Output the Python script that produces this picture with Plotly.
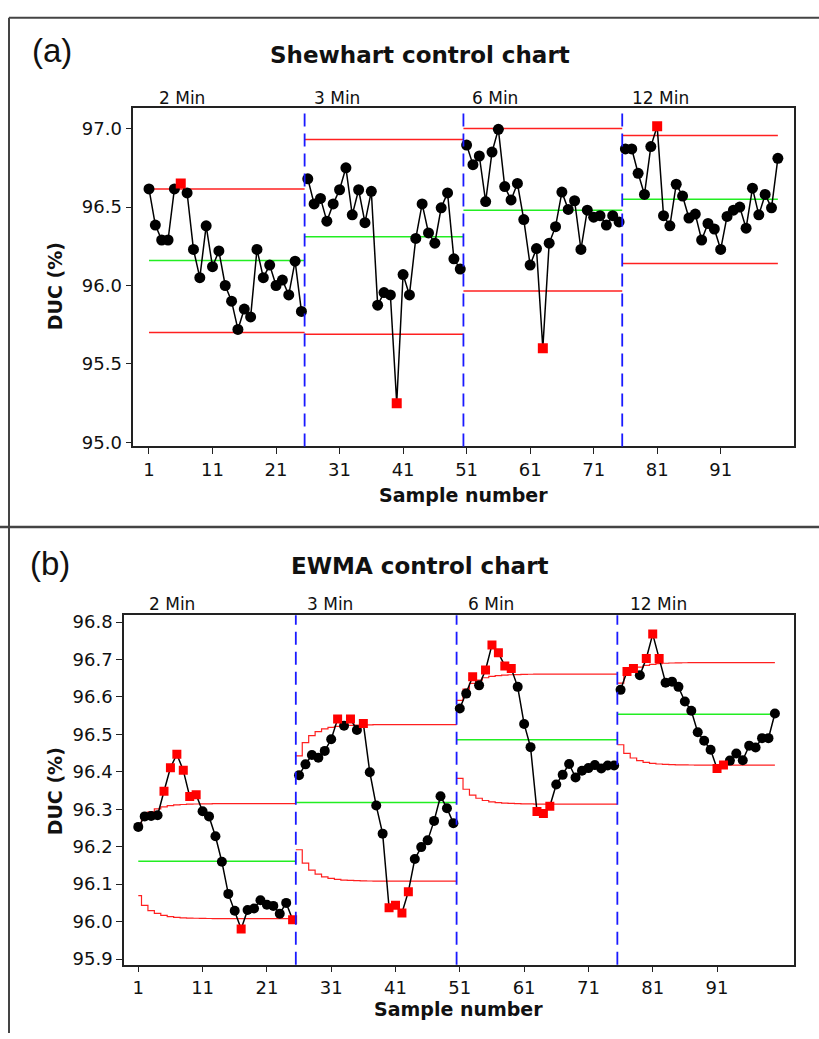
import plotly.graph_objects as go

# ---------------- data ----------------
segment_labels = ["2 Min", "3 Min", "6 Min", "12 Min"]
segment_first = [1, 26, 51, 76]
segment_last = [25, 50, 75, 100]
boundaries = [25.5, 50.5, 75.5]
x_ticks = [1, 11, 21, 31, 41, 51, 61, 71, 81, 91]

duc = [
    96.615, 96.385, 96.29, 96.29, 96.615, 96.65, 96.59, 96.23, 96.05, 96.38,
    96.12, 96.22, 96.00, 95.90, 95.72, 95.85, 95.80, 96.23, 96.05, 96.13,
    96.00, 96.035, 95.94, 96.155, 95.835,
    96.68, 96.52, 96.555, 96.41, 96.52, 96.61, 96.75, 96.45, 96.61, 96.40,
    96.60, 95.875, 95.955, 95.94, 95.25, 96.07, 95.94, 96.30, 96.52, 96.335,
    96.27, 96.495, 96.59, 96.17, 96.105,
    96.895, 96.77, 96.825, 96.535, 96.85, 96.995, 96.63, 96.545, 96.65, 96.42,
    96.13, 96.235, 95.60, 96.27, 96.375, 96.595, 96.485, 96.54, 96.23, 96.48,
    96.435, 96.445, 96.385, 96.445, 96.405,
    96.87, 96.87, 96.715, 96.58, 96.885, 97.015, 96.445, 96.38, 96.645, 96.57,
    96.43, 96.455, 96.29, 96.395, 96.36, 96.23, 96.44, 96.48, 96.50, 96.365,
    96.62, 96.45, 96.58, 96.495, 96.81,
]
shew_cl = [96.16, 96.31, 96.48, 96.55]
shew_ucl = [96.615, 96.93, 97.00, 96.955]
shew_lcl = [95.70, 95.69, 95.965, 96.14]
shew_out = [6, 40, 63, 81]

ewma = [
    96.253, 96.281, 96.282, 96.284, 96.348, 96.411, 96.447, 96.404, 96.334, 96.339,
    96.295, 96.281, 96.228, 96.160, 96.074, 96.029, 95.980, 96.031, 96.035, 96.057,
    96.045, 96.042, 96.021, 96.050, 96.005,
    96.391, 96.420, 96.445, 96.438, 96.456, 96.487, 96.541, 96.523, 96.541, 96.512,
    96.529, 96.399, 96.310, 96.235, 96.037, 96.044, 96.023, 96.080, 96.167, 96.199,
    96.217, 96.269, 96.335, 96.303, 96.263,
    96.569, 96.609, 96.654, 96.631, 96.672, 96.739, 96.718, 96.683, 96.676, 96.627,
    96.528, 96.466, 96.294, 96.289, 96.308, 96.366, 96.392, 96.421, 96.385, 96.403,
    96.410, 96.418, 96.409, 96.417, 96.417,
    96.619, 96.668, 96.676, 96.658, 96.703, 96.768, 96.703, 96.638, 96.641, 96.627,
    96.588, 96.563, 96.506, 96.483, 96.459, 96.409, 96.418, 96.430, 96.449, 96.431,
    96.470, 96.465, 96.490, 96.490, 96.556,
]
ewma_cl = [96.161, 96.318, 96.486, 96.554]
ewma_ucl = [96.315, 96.526, 96.661, 96.692]
ewma_lcl = [96.008, 96.108, 96.314, 96.418]
# fraction of the final limit width reached at each sample of a segment
ewma_ramp = [0.60, 0.77, 0.86, 0.91, 0.945, 0.965, 0.978, 0.986, 0.991, 0.994, 0.996, 0.998,
             1.0, 1.0, 1.0, 1.0, 1.0, 1.0, 1.0, 1.0, 1.0, 1.0, 1.0, 1.0, 1.0]
ewma_out = [5, 6, 7, 8, 9, 10, 17, 25, 32, 34, 36, 40, 41, 42, 43,
            53, 55, 56, 57, 58, 59, 63, 64, 65, 77, 78, 80, 81, 82, 91, 92]

# ---------------- figure ----------------
W, H = 819, 1039
RED = "#ff2020"
GREEN = "#22ee22"
BLUE = "#1a1aff"
FONT = "DejaVu Sans"

fig = go.Figure()


def add_points(values, out, xa, ya, csize, ssize):
    for s in range(4):
        xs = list(range(segment_first[s], segment_last[s] + 1))
        ys = values[segment_first[s] - 1: segment_last[s]]
        fig.add_trace(go.Scatter(x=xs, y=ys, mode="lines", line=dict(color="black", width=1.5),
                                 xaxis=xa, yaxis=ya, showlegend=False, hoverinfo="skip"))
    bx = [i + 1 for i in range(100) if (i + 1) not in out]
    by = [values[i] for i in range(100) if (i + 1) not in out]
    rx = [i for i in out]
    ry = [values[i - 1] for i in out]
    fig.add_trace(go.Scatter(x=bx, y=by, mode="markers",
                             marker=dict(color="black", size=csize, symbol="circle"),
                             xaxis=xa, yaxis=ya, showlegend=False))
    fig.add_trace(go.Scatter(x=rx, y=ry, mode="markers",
                             marker=dict(color="#ff0000", size=ssize, symbol="square"),
                             xaxis=xa, yaxis=ya, showlegend=False))


seg_left = [1, 25.5, 50.5, 75.5]
seg_right = [25.5, 50.5, 75.5, 100]

# Shewhart limits
for s in range(4):
    for val, col in ((shew_ucl[s], RED), (shew_lcl[s], RED), (shew_cl[s], GREEN)):
        fig.add_trace(go.Scatter(x=[seg_left[s], seg_right[s]], y=[val, val], mode="lines",
                                 line=dict(color=col, width=1.5), xaxis="x", yaxis="y",
                                 showlegend=False, hoverinfo="skip"))

# EWMA limits (stepped)
for s in range(4):
    n = segment_last[s] - segment_first[s] + 1
    xs = [seg_left[s]] + list(range(segment_first[s], segment_last[s] + 1)) + [seg_right[s]]
    ramp = [ewma_ramp[0]] + ewma_ramp[:n] + [ewma_ramp[n - 1]]
    up = [ewma_cl[s] + (ewma_ucl[s] - ewma_cl[s]) * r for r in ramp]
    lo = [ewma_cl[s] - (ewma_cl[s] - ewma_lcl[s]) * r for r in ramp]
    for ys in (up, lo):
        fig.add_trace(go.Scatter(x=xs, y=ys, mode="lines", line=dict(color=RED, width=1.2, shape="hvh"),
                                 xaxis="x2", yaxis="y2", showlegend=False, hoverinfo="skip"))
    fig.add_trace(go.Scatter(x=[seg_left[s], seg_right[s]], y=[ewma_cl[s], ewma_cl[s]], mode="lines",
                             line=dict(color=GREEN, width=1.5), xaxis="x2", yaxis="y2",
                             showlegend=False, hoverinfo="skip"))

add_points(duc, shew_out, "x", "y", 11, 10)
add_points(ewma, ewma_out, "x2", "y2", 10, 9)

# vertical dashed separators
shapes = []
for b in boundaries:
    for xr, yr in (("x", "y domain"), ("x2", "y2 domain")):
        shapes.append(dict(type="line", xref=xr, yref=yr, x0=b, x1=b, y0=0, y1=1,
                           line=dict(color=BLUE, width=1.8, dash="13px,7px")))
# outer frames
frame = "#444444"
shapes.append(dict(type="line", xref="paper", yref="paper", x0=9 / W, x1=1, y0=1 - 14 / H, y1=1 - 14 / H,
                   line=dict(color=frame, width=2)))
shapes.append(dict(type="line", xref="paper", yref="paper", x0=9 / W, x1=9 / W, y0=0, y1=1 - 14 / H,
                   line=dict(color=frame, width=2)))
shapes.append(dict(type="line", xref="paper", yref="paper", x0=0, x1=1, y0=1 - 528 / H, y1=1 - 528 / H,
                   line=dict(color=frame, width=2.5)))

ann = []


def txt(text, px, py, size, bold=False, angle=0, family=FONT, xanchor="center"):
    ann.append(dict(text=("<b>%s</b>" % text) if bold else text, x=px / W, y=1 - py / H,
                    xref="paper", yref="paper", showarrow=False, textangle=angle,
                    xanchor=xanchor, yanchor="middle", font=dict(size=size, family=family, color="#111")))


txt("(a)", 52, 47, 33, family="Liberation Sans")
txt("(b)", 50, 565, 33, family="Liberation Sans")
txt("Shewhart control chart", 420, 52, 23, bold=True)
txt("EWMA control chart", 420, 567, 23, bold=True)
txt("DUC (%)", 55, 285, 19, bold=True, angle=-90)
txt("DUC (%)", 55, 795, 19, bold=True, angle=-90)
txt("Sample number", 463, 496, 19, bold=True)
txt("Sample number", 458, 1015, 19, bold=True)

top_lab_x = [2.21, 26.71, 51.53, 76.72]
bot_lab_x = [2.31, 26.93, 51.92, 77.11]
for s in range(4):
    ann.append(dict(text=segment_labels[s], x=top_lab_x[s], y=1 - 95 / H, xref="x", yref="paper",
                    showarrow=False, xanchor="left", yanchor="middle",
                    font=dict(size=17, family=FONT, color="#111")))
    ann.append(dict(text=segment_labels[s], x=bot_lab_x[s], y=1 - 606 / H, xref="x2", yref="paper",
                    showarrow=False, xanchor="left", yanchor="middle",
                    font=dict(size=17, family=FONT, color="#111")))

axis_common = dict(showline=True, linecolor="#222", linewidth=1.5, mirror=True, showgrid=False,
                   zeroline=False, ticks="outside", ticklen=6, tickwidth=1.3, tickcolor="#222",
                   tickfont=dict(size=18, family=FONT, color="#111"))

fig.update_layout(
    width=W, height=H, margin=dict(l=0, r=0, t=0, b=0),
    paper_bgcolor="white", plot_bgcolor="white",
    xaxis=dict(domain=[133.3 / W, 794 / W], range=[-1.47, 102.54], tickvals=x_ticks, anchor="y", **axis_common),
    yaxis=dict(domain=[1 - 446.7 / H, 1 - 105.3 / H], range=[94.975, 97.129], tickvals=[95.0, 95.5, 96.0, 96.5, 97.0],
               tickformat=".1f", anchor="x", **axis_common),
    xaxis2=dict(domain=[124 / W, 794 / W], range=[-1.22, 102.97], tickvals=x_ticks, anchor="y2", **axis_common),
    yaxis2=dict(domain=[1 - 970 / H, 1 - 617.3 / H], range=[95.885, 96.818], dtick=0.1, tick0=95.9,
                tickformat=".1f", anchor="x2", **axis_common),
    shapes=shapes, annotations=ann,
)

fig.write_html("out.html")
